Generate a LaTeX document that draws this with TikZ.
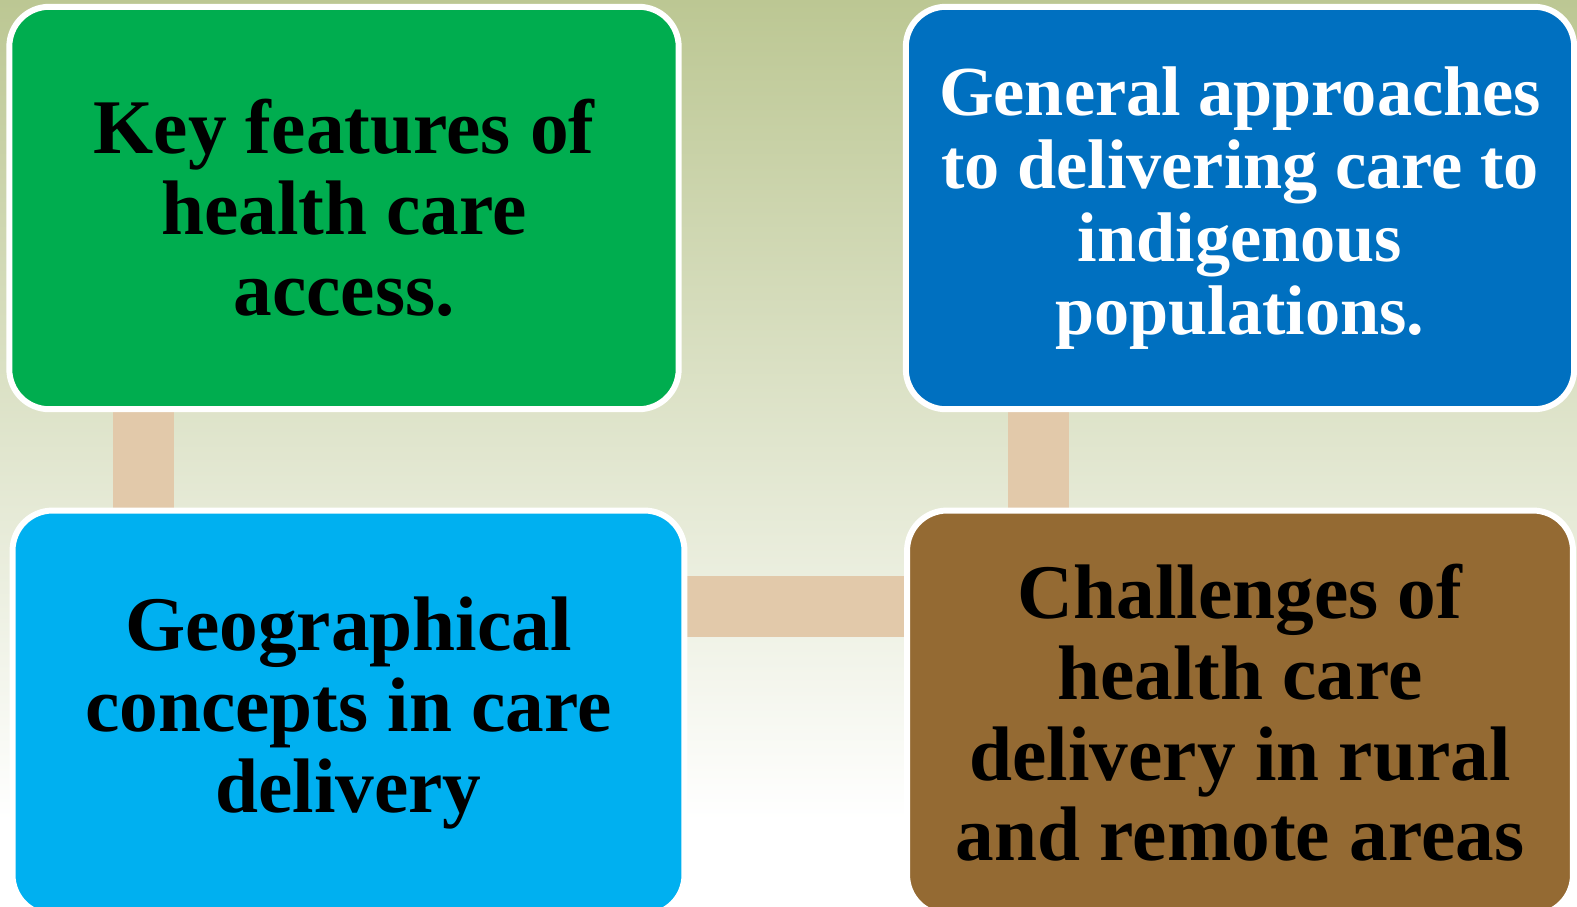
\documentclass[tikz,border=0pt]{standalone}
\usepackage{fontspec}
\setmainfont{Liberation Serif}
\usetikzlibrary{backgrounds}
\definecolor{bgtop}{HTML}{BCC793}
\definecolor{keygreen}{HTML}{00AD4F}
\definecolor{appblue}{HTML}{0070C0}
\definecolor{geocyan}{HTML}{00B0F0}
\definecolor{chalbrown}{HTML}{946A33}
\definecolor{barcol}{HTML}{E2C9AA}
\tikzset{
    box/.style={draw=white,line width=3.4pt,rounded corners=0.8cm,align=center,
        font=\bfseries\fontsize{44}{46}\selectfont,inner sep=0pt},
    bar/.style={barcol,line width=1.22cm}
}
\begin{document}
\begin{tikzpicture}[x=0.02cm,y=-0.02cm]
                \useasboundingbox (0,0) rectangle (1577,906);
                \node[box,fill=keygreen,minimum width=13.39cm,minimum height=8.05cm] (key) at (344,208) {Key features of\\health care\\access.};
                \node[box,fill=appblue,text=white,minimum width=13.37cm,minimum height=8.05cm,font=\bfseries\fontsize{40}{41.5}\selectfont] (approach) at (1240,208) {General approaches\\to delivering care to\\indigenous\\populations.};
                \node[box,fill=geocyan,minimum width=13.44cm,minimum height=8.09cm] (geo) at (348.5,712.75) {Geographical\\concepts in care\\delivery};
                \node[box,fill=chalbrown,minimum width=13.32cm,minimum height=8.09cm] (challenge) at (1240,712.75) {Challenges of\\health care\\delivery in rural\\and remote areas};
                \begin{scope}[on background layer]
                    % backdrop
                    \fill[white] (0,0) rectangle (1577,906);
                    \shade[top color=bgtop,bottom color=white] (0,0) rectangle (1577,820);
                    % connectors behind the boxes
                    \draw[bar] ([xshift=2.74cm]key.south west) -- ([xshift=2.74cm]key.south west |- geo.north);
                    \draw[bar] ([xshift=2.72cm]approach.south west) -- ([xshift=2.72cm]approach.south west |- challenge.north);
                    \draw[bar] ([yshift=-1.98cm]geo.north east) -- ([yshift=-1.98cm]geo.north east -| challenge.west);
                \end{scope}
\end{tikzpicture}
\end{document}
